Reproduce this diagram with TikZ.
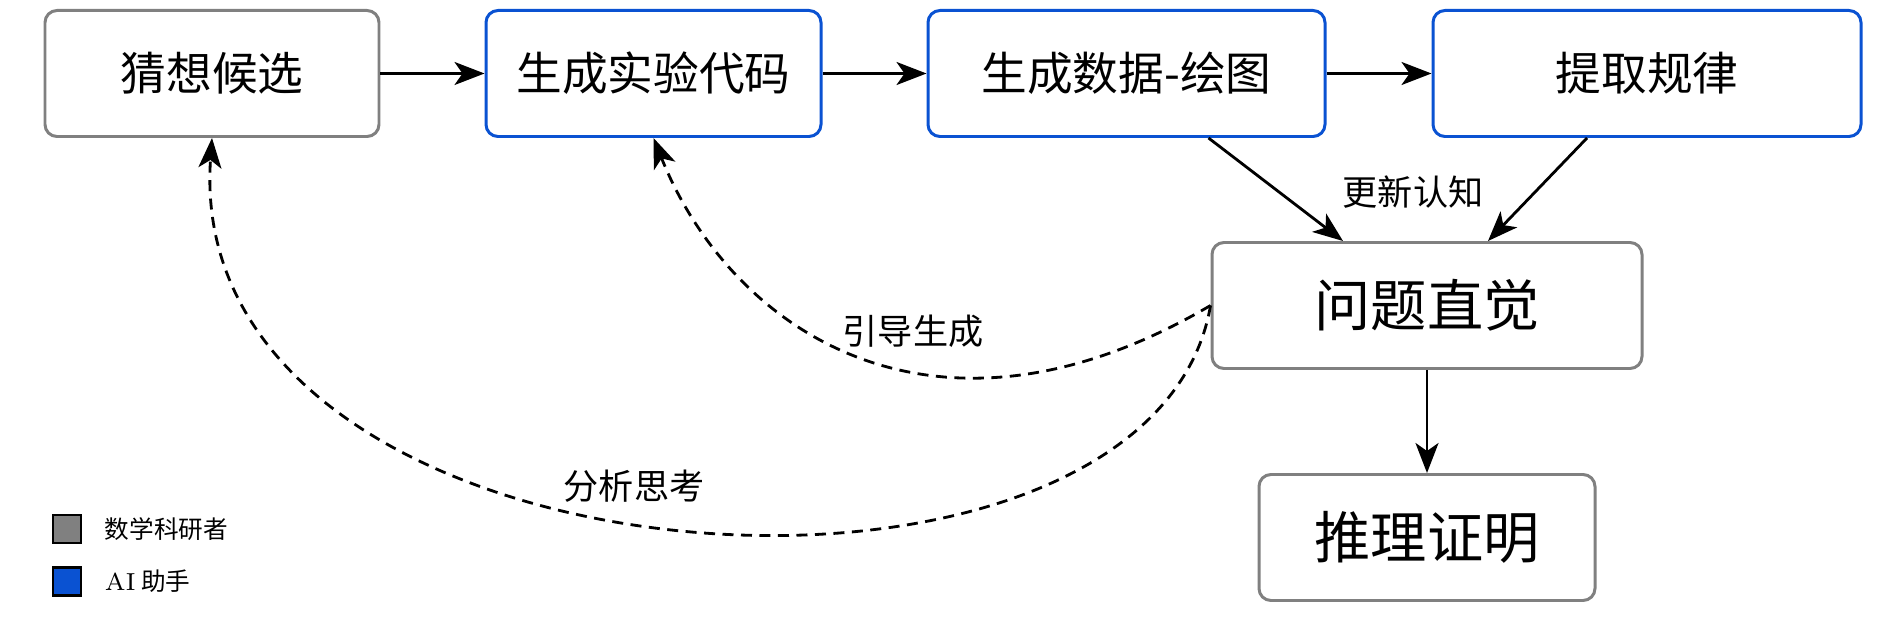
\documentclass[tikz,border=0pt]{standalone}
\usepackage{fontspec}
\newfontfamily\cjk{Noto Sans CJK SC}
\usetikzlibrary{positioning, arrows.meta}
\definecolor{humgray}{HTML}{808080}
\definecolor{aiblue}{HTML}{0A52D2}

\begin{document}
\begin{tikzpicture}
  % 定义样式
  \tikzset{box/.style = {rectangle, rounded corners=1.2mm, draw, line width=0.85pt, fill=white, inner sep=0pt, minimum height=12.6mm, font=\cjk\fontsize{13}{15}\selectfont}}
  \tikzset{human/.style = {box, draw=humgray}}
  \tikzset{ai/.style = {box, draw=aiblue}}
  \tikzset{big/.style = {font=\cjk\fontsize{16}{18}\selectfont}}
  \tikzset{flow/.style = {draw, line width=0.8pt, -{Stealth[length=3mm, width=2.3mm, inset=0.8mm]}}}
  \tikzset{hint/.style = {flow, dash pattern=on 1.1mm off 0.75mm}}
  \tikzset{tag/.style = {font=\cjk\fontsize{10}{12}\selectfont, inner sep=1pt}}
  \tikzset{key/.style = {draw, line width=0.7pt, minimum size=2.8mm, inner sep=0pt}}

  \useasboundingbox (0,0) rectangle (18.82,-6.24);

  % 定义点
  \node[human, minimum width=33.4mm] (guess) at (2.12,-0.735) {猜想候选};
  \node[ai, minimum width=33.5mm] (code) at (6.535,-0.735) {生成实验代码};
  \node[ai, minimum width=39.7mm] (data) at (11.265,-0.735) {生成数据-绘图};
  \node[ai, minimum width=42.8mm] (rule) at (16.47,-0.735) {提取规律};
  \node[human, big, minimum width=43mm] (intu) at (14.27,-3.055) {问题直觉};
  \node[human, big, minimum width=33.6mm] (proof) at (14.27,-5.375) {推理证明};

  % 定义边
  \draw[flow] (guess) -- (code);
  \draw[flow] (code) -- (data);
  \draw[flow] (data) -- (rule);
  \draw[flow] ([xshift=8.2mm]data.south) -- ([xshift=-8.4mm]intu.north);
  \draw[flow] ([xshift=-6mm]rule.south) -- ([xshift=6.1mm]intu.north);
  \draw[flow] (intu) -- (proof);
  \draw[hint] (intu.west) .. controls (9.30,-4.70) and (7.29,-3.27) .. (code.south);
  \draw[hint] (intu.west) .. controls (11.50,-6.60) and (1.80,-6.00) .. (guess.south);

  \node[tag] (update) at (14.13,-1.92) {更新认知};
  \node[tag] (steer) at (9.13,-3.31) {引导生成};
  \node[tag] (think) at (6.34,-4.86) {分析思考};

  % 图例
  \node[key, fill=humgray] (humkey) at (0.67,-5.29) {};
  \node[key, fill=aiblue] (aikey) at (0.67,-5.815) {};
  \node[right=2.2mm of humkey, inner sep=0pt, font=\cjk\fontsize{7}{8}\selectfont] (humtext) {数学科研者};
  \node[right=2.2mm of aikey, inner sep=0pt, font=\cjk\fontsize{7}{8}\selectfont] (aitext) {{\rmfamily AI} 助手};
\end{tikzpicture}
\end{document}
